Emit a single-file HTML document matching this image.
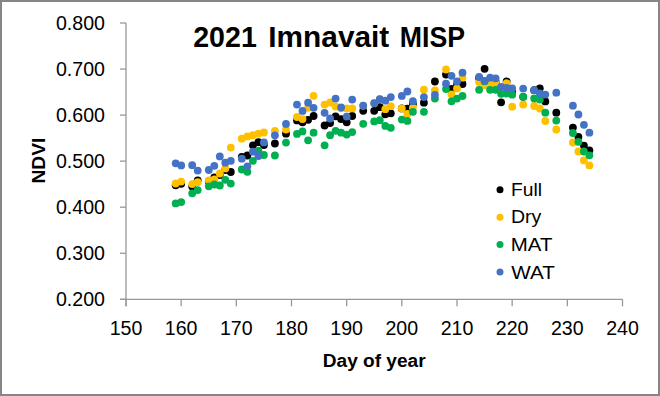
<!DOCTYPE html>
<html><head><meta charset="utf-8"><style>
html,body{margin:0;padding:0;background:#fff;}
svg{display:block;}
text{font-family:"Liberation Sans", sans-serif;}
</style></head><body>
<svg width="660" height="396" viewBox="0 0 660 396">
<rect x="0" y="0" width="660" height="396" fill="#ffffff"/>

<g stroke="#989898" stroke-width="1.3" fill="none">
<path d="M126.0,23.0 V306.3"/>
<path d="M120.0,299.3 H622.5"/>
<path d="M120.0,299.30 H126.0"/>
<path d="M120.0,253.25 H126.0"/>
<path d="M120.0,207.20 H126.0"/>
<path d="M120.0,161.15 H126.0"/>
<path d="M120.0,115.10 H126.0"/>
<path d="M120.0,69.05 H126.0"/>
<path d="M120.0,23.00 H126.0"/>
<path d="M126.00,299.3 V306.3"/>
<path d="M181.17,299.3 V306.3"/>
<path d="M236.33,299.3 V306.3"/>
<path d="M291.50,299.3 V306.3"/>
<path d="M346.67,299.3 V306.3"/>
<path d="M401.83,299.3 V306.3"/>
<path d="M457.00,299.3 V306.3"/>
<path d="M512.17,299.3 V306.3"/>
<path d="M567.33,299.3 V306.3"/>
<path d="M622.50,299.3 V306.3"/>
</g>
<text x="105" y="306.20" font-size="19.6" text-anchor="end" fill="#000">0.200</text>
<text x="105" y="260.20" font-size="19.6" text-anchor="end" fill="#000">0.300</text>
<text x="105" y="214.20" font-size="19.6" text-anchor="end" fill="#000">0.400</text>
<text x="105" y="168.20" font-size="19.6" text-anchor="end" fill="#000">0.500</text>
<text x="105" y="122.20" font-size="19.6" text-anchor="end" fill="#000">0.600</text>
<text x="105" y="76.20" font-size="19.6" text-anchor="end" fill="#000">0.700</text>
<text x="105" y="30.20" font-size="19.6" text-anchor="end" fill="#000">0.800</text>
<text x="126.00" y="334.7" font-size="19.6" text-anchor="middle" fill="#000">150</text>
<text x="181.17" y="334.7" font-size="19.6" text-anchor="middle" fill="#000">160</text>
<text x="236.33" y="334.7" font-size="19.6" text-anchor="middle" fill="#000">170</text>
<text x="291.50" y="334.7" font-size="19.6" text-anchor="middle" fill="#000">180</text>
<text x="346.67" y="334.7" font-size="19.6" text-anchor="middle" fill="#000">190</text>
<text x="401.83" y="334.7" font-size="19.6" text-anchor="middle" fill="#000">200</text>
<text x="457.00" y="334.7" font-size="19.6" text-anchor="middle" fill="#000">210</text>
<text x="512.17" y="334.7" font-size="19.6" text-anchor="middle" fill="#000">220</text>
<text x="567.33" y="334.7" font-size="19.6" text-anchor="middle" fill="#000">230</text>
<text x="622.50" y="334.7" font-size="19.6" text-anchor="middle" fill="#000">240</text>
<text x="193.2" y="47.4" font-size="29" font-weight="bold" textLength="63.6" lengthAdjust="spacingAndGlyphs" fill="#000">2021</text>
<text x="268.3" y="47.4" font-size="29" font-weight="bold" textLength="121.0" lengthAdjust="spacingAndGlyphs" fill="#000">Imnavait</text>
<text x="399.8" y="47.4" font-size="29" font-weight="bold" textLength="65.2" lengthAdjust="spacingAndGlyphs" fill="#000">MISP</text>
<text x="322.8" y="367.2" font-size="17.5" font-weight="bold" textLength="102.8" lengthAdjust="spacingAndGlyphs" fill="#000">Day of year</text>
<text transform="translate(44.6,183.6) rotate(-90)" x="0" y="0" font-size="18.2" font-weight="bold" textLength="46" lengthAdjust="spacingAndGlyphs" fill="#000">NDVI</text>
<g fill="#000000">
<circle cx="175.7" cy="185.3" r="3.9"/>
<circle cx="181.2" cy="183.8" r="3.9"/>
<circle cx="192.2" cy="186.6" r="3.9"/>
<circle cx="197.7" cy="180.3" r="3.9"/>
<circle cx="208.8" cy="181.5" r="3.9"/>
<circle cx="214.3" cy="177.5" r="3.9"/>
<circle cx="219.8" cy="175.0" r="3.9"/>
<circle cx="225.3" cy="170.0" r="3.9"/>
<circle cx="230.8" cy="172.0" r="3.9"/>
<circle cx="241.8" cy="157.0" r="3.9"/>
<circle cx="247.4" cy="155.5" r="3.9"/>
<circle cx="252.9" cy="145.3" r="3.9"/>
<circle cx="258.4" cy="142.2" r="3.9"/>
<circle cx="263.9" cy="145.0" r="3.9"/>
<circle cx="274.9" cy="143.5" r="3.9"/>
<circle cx="286.0" cy="133.7" r="3.9"/>
<circle cx="297.0" cy="120.4" r="3.9"/>
<circle cx="302.5" cy="122.3" r="3.9"/>
<circle cx="308.1" cy="119.8" r="3.9"/>
<circle cx="313.6" cy="116.0" r="3.9"/>
<circle cx="324.6" cy="125.5" r="3.9"/>
<circle cx="330.1" cy="123.0" r="3.9"/>
<circle cx="335.6" cy="116.3" r="3.9"/>
<circle cx="341.1" cy="119.1" r="3.9"/>
<circle cx="346.7" cy="122.3" r="3.9"/>
<circle cx="352.2" cy="116.0" r="3.9"/>
<circle cx="363.2" cy="110.8" r="3.9"/>
<circle cx="374.2" cy="110.8" r="3.9"/>
<circle cx="379.8" cy="107.2" r="3.9"/>
<circle cx="385.3" cy="114.3" r="3.9"/>
<circle cx="390.8" cy="113.3" r="3.9"/>
<circle cx="401.8" cy="108.4" r="3.9"/>
<circle cx="407.4" cy="108.7" r="3.9"/>
<circle cx="412.9" cy="104.0" r="3.9"/>
<circle cx="423.9" cy="102.7" r="3.9"/>
<circle cx="434.9" cy="81.5" r="3.9"/>
<circle cx="446.0" cy="74.6" r="3.9"/>
<circle cx="451.5" cy="89.0" r="3.9"/>
<circle cx="457.0" cy="85.0" r="3.9"/>
<circle cx="462.5" cy="84.0" r="3.9"/>
<circle cx="479.1" cy="78.0" r="3.9"/>
<circle cx="484.6" cy="68.8" r="3.9"/>
<circle cx="490.1" cy="80.0" r="3.9"/>
<circle cx="495.6" cy="82.0" r="3.9"/>
<circle cx="501.1" cy="102.3" r="3.9"/>
<circle cx="506.6" cy="81.5" r="3.9"/>
<circle cx="512.2" cy="92.0" r="3.9"/>
<circle cx="523.2" cy="96.8" r="3.9"/>
<circle cx="534.2" cy="90.2" r="3.9"/>
<circle cx="539.8" cy="88.3" r="3.9"/>
<circle cx="545.3" cy="101.4" r="3.9"/>
<circle cx="556.3" cy="112.7" r="3.9"/>
<circle cx="572.9" cy="127.6" r="3.9"/>
<circle cx="578.4" cy="136.8" r="3.9"/>
<circle cx="583.9" cy="145.6" r="3.9"/>
<circle cx="589.4" cy="150.3" r="3.9"/>
</g>
<g fill="#FFC000">
<circle cx="175.7" cy="183.5" r="3.9"/>
<circle cx="181.2" cy="181.6" r="3.9"/>
<circle cx="192.2" cy="184.1" r="3.9"/>
<circle cx="197.7" cy="182.2" r="3.9"/>
<circle cx="208.8" cy="180.3" r="3.9"/>
<circle cx="214.3" cy="179.5" r="3.9"/>
<circle cx="219.8" cy="173.5" r="3.9"/>
<circle cx="225.3" cy="168.4" r="3.9"/>
<circle cx="230.8" cy="147.6" r="3.9"/>
<circle cx="241.8" cy="138.7" r="3.9"/>
<circle cx="247.4" cy="136.4" r="3.9"/>
<circle cx="252.9" cy="135.2" r="3.9"/>
<circle cx="258.4" cy="133.7" r="3.9"/>
<circle cx="263.9" cy="132.5" r="3.9"/>
<circle cx="274.9" cy="130.8" r="3.9"/>
<circle cx="286.0" cy="129.6" r="3.9"/>
<circle cx="297.0" cy="117.0" r="3.9"/>
<circle cx="302.5" cy="119.1" r="3.9"/>
<circle cx="308.1" cy="107.8" r="3.9"/>
<circle cx="313.6" cy="95.8" r="3.9"/>
<circle cx="324.6" cy="104.6" r="3.9"/>
<circle cx="330.1" cy="102.5" r="3.9"/>
<circle cx="335.6" cy="106.5" r="3.9"/>
<circle cx="341.1" cy="108.0" r="3.9"/>
<circle cx="346.7" cy="108.4" r="3.9"/>
<circle cx="352.2" cy="108.4" r="3.9"/>
<circle cx="363.2" cy="105.7" r="3.9"/>
<circle cx="374.2" cy="103.2" r="3.9"/>
<circle cx="379.8" cy="99.1" r="3.9"/>
<circle cx="385.3" cy="109.2" r="3.9"/>
<circle cx="390.8" cy="106.2" r="3.9"/>
<circle cx="401.8" cy="108.4" r="3.9"/>
<circle cx="407.4" cy="114.0" r="3.9"/>
<circle cx="412.9" cy="107.7" r="3.9"/>
<circle cx="423.9" cy="89.7" r="3.9"/>
<circle cx="434.9" cy="90.4" r="3.9"/>
<circle cx="446.0" cy="69.5" r="3.9"/>
<circle cx="451.5" cy="94.5" r="3.9"/>
<circle cx="457.0" cy="88.5" r="3.9"/>
<circle cx="462.5" cy="77.7" r="3.9"/>
<circle cx="479.1" cy="82.0" r="3.9"/>
<circle cx="484.6" cy="85.3" r="3.9"/>
<circle cx="490.1" cy="83.7" r="3.9"/>
<circle cx="495.6" cy="83.7" r="3.9"/>
<circle cx="501.1" cy="92.0" r="3.9"/>
<circle cx="506.6" cy="83.2" r="3.9"/>
<circle cx="512.2" cy="106.7" r="3.9"/>
<circle cx="523.2" cy="104.5" r="3.9"/>
<circle cx="534.2" cy="106.0" r="3.9"/>
<circle cx="539.8" cy="108.5" r="3.9"/>
<circle cx="545.3" cy="121.0" r="3.9"/>
<circle cx="556.3" cy="129.5" r="3.9"/>
<circle cx="572.9" cy="142.5" r="3.9"/>
<circle cx="578.4" cy="151.5" r="3.9"/>
<circle cx="583.9" cy="160.4" r="3.9"/>
<circle cx="589.4" cy="165.4" r="3.9"/>
</g>
<g fill="#00B050">
<circle cx="175.7" cy="203.4" r="3.9"/>
<circle cx="181.2" cy="202.1" r="3.9"/>
<circle cx="192.2" cy="193.3" r="3.9"/>
<circle cx="197.7" cy="190.1" r="3.9"/>
<circle cx="208.8" cy="186.3" r="3.9"/>
<circle cx="214.3" cy="184.5" r="3.9"/>
<circle cx="219.8" cy="185.5" r="3.9"/>
<circle cx="225.3" cy="179.8" r="3.9"/>
<circle cx="230.8" cy="183.6" r="3.9"/>
<circle cx="241.8" cy="169.5" r="3.9"/>
<circle cx="247.4" cy="171.8" r="3.9"/>
<circle cx="252.9" cy="160.8" r="3.9"/>
<circle cx="258.4" cy="150.7" r="3.9"/>
<circle cx="263.9" cy="155.0" r="3.9"/>
<circle cx="274.9" cy="155.5" r="3.9"/>
<circle cx="286.0" cy="142.6" r="3.9"/>
<circle cx="297.0" cy="133.9" r="3.9"/>
<circle cx="302.5" cy="131.4" r="3.9"/>
<circle cx="308.1" cy="140.3" r="3.9"/>
<circle cx="313.6" cy="132.7" r="3.9"/>
<circle cx="324.6" cy="145.3" r="3.9"/>
<circle cx="330.1" cy="135.2" r="3.9"/>
<circle cx="335.6" cy="130.8" r="3.9"/>
<circle cx="341.1" cy="132.7" r="3.9"/>
<circle cx="346.7" cy="134.6" r="3.9"/>
<circle cx="352.2" cy="132.1" r="3.9"/>
<circle cx="363.2" cy="123.8" r="3.9"/>
<circle cx="374.2" cy="121.4" r="3.9"/>
<circle cx="379.8" cy="120.2" r="3.9"/>
<circle cx="385.3" cy="125.9" r="3.9"/>
<circle cx="390.8" cy="127.8" r="3.9"/>
<circle cx="401.8" cy="119.6" r="3.9"/>
<circle cx="407.4" cy="120.9" r="3.9"/>
<circle cx="412.9" cy="111.8" r="3.9"/>
<circle cx="423.9" cy="111.8" r="3.9"/>
<circle cx="434.9" cy="98.6" r="3.9"/>
<circle cx="446.0" cy="89.1" r="3.9"/>
<circle cx="451.5" cy="101.3" r="3.9"/>
<circle cx="457.0" cy="98.6" r="3.9"/>
<circle cx="462.5" cy="96.0" r="3.9"/>
<circle cx="479.1" cy="89.8" r="3.9"/>
<circle cx="484.6" cy="81.2" r="3.9"/>
<circle cx="490.1" cy="89.8" r="3.9"/>
<circle cx="495.6" cy="89.8" r="3.9"/>
<circle cx="501.1" cy="93.8" r="3.9"/>
<circle cx="506.6" cy="93.5" r="3.9"/>
<circle cx="512.2" cy="94.7" r="3.9"/>
<circle cx="523.2" cy="96.8" r="3.9"/>
<circle cx="534.2" cy="98.4" r="3.9"/>
<circle cx="539.8" cy="99.6" r="3.9"/>
<circle cx="545.3" cy="112.7" r="3.9"/>
<circle cx="556.3" cy="120.6" r="3.9"/>
<circle cx="572.9" cy="133.0" r="3.9"/>
<circle cx="578.4" cy="141.8" r="3.9"/>
<circle cx="583.9" cy="151.5" r="3.9"/>
<circle cx="589.4" cy="155.3" r="3.9"/>
</g>
<g fill="#4472C4">
<circle cx="175.7" cy="163.3" r="3.9"/>
<circle cx="181.2" cy="165.4" r="3.9"/>
<circle cx="192.2" cy="165.2" r="3.9"/>
<circle cx="197.7" cy="170.6" r="3.9"/>
<circle cx="208.8" cy="170.0" r="3.9"/>
<circle cx="214.3" cy="165.8" r="3.9"/>
<circle cx="219.8" cy="156.4" r="3.9"/>
<circle cx="225.3" cy="162.7" r="3.9"/>
<circle cx="230.8" cy="160.8" r="3.9"/>
<circle cx="241.8" cy="158.7" r="3.9"/>
<circle cx="247.4" cy="166.3" r="3.9"/>
<circle cx="252.9" cy="151.7" r="3.9"/>
<circle cx="258.4" cy="156.0" r="3.9"/>
<circle cx="263.9" cy="142.4" r="3.9"/>
<circle cx="274.9" cy="135.3" r="3.9"/>
<circle cx="286.0" cy="123.9" r="3.9"/>
<circle cx="297.0" cy="104.6" r="3.9"/>
<circle cx="302.5" cy="110.9" r="3.9"/>
<circle cx="308.1" cy="102.7" r="3.9"/>
<circle cx="313.6" cy="107.8" r="3.9"/>
<circle cx="324.6" cy="112.8" r="3.9"/>
<circle cx="330.1" cy="118.5" r="3.9"/>
<circle cx="335.6" cy="98.6" r="3.9"/>
<circle cx="341.1" cy="107.5" r="3.9"/>
<circle cx="346.7" cy="116.6" r="3.9"/>
<circle cx="352.2" cy="99.6" r="3.9"/>
<circle cx="363.2" cy="105.7" r="3.9"/>
<circle cx="374.2" cy="103.2" r="3.9"/>
<circle cx="379.8" cy="99.1" r="3.9"/>
<circle cx="385.3" cy="100.7" r="3.9"/>
<circle cx="390.8" cy="97.1" r="3.9"/>
<circle cx="401.8" cy="95.9" r="3.9"/>
<circle cx="407.4" cy="91.5" r="3.9"/>
<circle cx="412.9" cy="101.2" r="3.9"/>
<circle cx="423.9" cy="97.1" r="3.9"/>
<circle cx="434.9" cy="94.8" r="3.9"/>
<circle cx="446.0" cy="83.7" r="3.9"/>
<circle cx="451.5" cy="75.8" r="3.9"/>
<circle cx="457.0" cy="81.5" r="3.9"/>
<circle cx="462.5" cy="72.7" r="3.9"/>
<circle cx="479.1" cy="77.0" r="3.9"/>
<circle cx="484.6" cy="80.8" r="3.9"/>
<circle cx="490.1" cy="77.7" r="3.9"/>
<circle cx="495.6" cy="78.3" r="3.9"/>
<circle cx="501.1" cy="86.8" r="3.9"/>
<circle cx="506.6" cy="87.8" r="3.9"/>
<circle cx="512.2" cy="88.4" r="3.9"/>
<circle cx="523.2" cy="88.6" r="3.9"/>
<circle cx="534.2" cy="90.2" r="3.9"/>
<circle cx="539.8" cy="93.3" r="3.9"/>
<circle cx="545.3" cy="94.6" r="3.9"/>
<circle cx="556.3" cy="92.7" r="3.9"/>
<circle cx="572.9" cy="105.7" r="3.9"/>
<circle cx="578.4" cy="114.5" r="3.9"/>
<circle cx="583.9" cy="124.8" r="3.9"/>
<circle cx="589.4" cy="132.7" r="3.9"/>
</g>
<circle cx="500" cy="189.80" r="3.5" fill="#000000"/>
<text x="511.0" y="195.60" font-size="18.6" textLength="31.0" lengthAdjust="spacingAndGlyphs" fill="#000">Full</text>
<circle cx="500" cy="217.20" r="3.5" fill="#FFC000"/>
<text x="511.0" y="223.30" font-size="18.6" textLength="30.4" lengthAdjust="spacingAndGlyphs" fill="#000">Dry</text>
<circle cx="500" cy="244.60" r="3.5" fill="#00B050"/>
<text x="510.8" y="251.00" font-size="18.6" textLength="41.6" lengthAdjust="spacingAndGlyphs" fill="#000">MAT</text>
<circle cx="500" cy="272.00" r="3.5" fill="#4472C4"/>
<text x="511.3" y="278.70" font-size="18.6" textLength="43.6" lengthAdjust="spacingAndGlyphs" fill="#000">WAT</text>
<rect x="1" y="1" width="658" height="394" fill="none" stroke="#868686" stroke-width="2"/>
</svg></body></html>
